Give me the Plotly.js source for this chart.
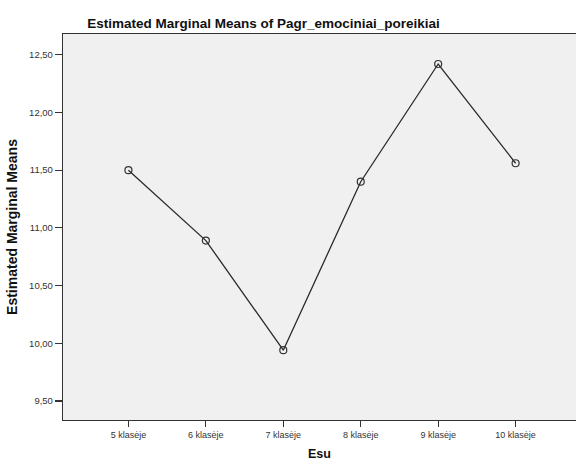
<!DOCTYPE html>
<html>
<head>
<meta charset="utf-8">
<script src="https://cdn.plot.ly/plotly-3.0.1.min.js"></script>
<style>html,body{margin:0;padding:0;background:#fff;}#chart{width:576px;height:461px;}</style>
</head>
<body>
<div id="chart"></div>
<script>
var categories = ["5 klasėje", "6 klasėje", "7 klasėje", "8 klasėje", "9 klasėje", "10 klasėje"];
var means = [11.50, 10.89, 9.94, 11.40, 12.42, 11.56];
var yTicks = [9.5, 10.0, 10.5, 11.0, 11.5, 12.0, 12.5];

var trace = {
  x: categories,
  y: means,
  type: 'scatter',
  mode: 'lines+markers',
  line: {color: '#2a2a2a', width: 1.3},
  marker: {symbol: 'circle-open', size: 7, color: '#333333', line: {width: 1.2, color: '#333333'}},
  hoverinfo: 'x+y'
};

var layout = {
  width: 576,
  height: 461,
  separators: ', ',
  paper_bgcolor: '#ffffff',
  plot_bgcolor: '#f0f0f0',
  margin: {l: 63, r: 0, t: 34, b: 41, pad: 0},
  showlegend: false,
  font: {family: 'Arial, "Liberation Sans", sans-serif', color: '#333333'},
  title: {
    text: '<b>Estimated Marginal Means of Pagr_emociniai_poreikiai</b>',
    font: {size: 13.5, color: '#111111'},
    xref: 'container', yref: 'container',
    x: 0.4575, xanchor: 'center',
    y: 0.95, yanchor: 'middle'
  },
  xaxis: {
    type: 'category',
    range: [-0.845, 5.78],
    showgrid: false,
    zeroline: false,
    showline: true,
    linecolor: '#333333',
    linewidth: 1.2,
    mirror: true,
    ticks: 'outside',
    ticklen: 6,
    tickwidth: 1.2,
    tickcolor: '#333333',
    tickfont: {size: 9, color: '#333333'},
    title: {text: '<b>Esu</b>', font: {size: 12.5, color: '#111111'}, standoff: 14}
  },
  yaxis: {
    range: [9.335, 12.68],
    tickvals: yTicks,
    tickformat: '.2f',
    showgrid: false,
    zeroline: false,
    showline: true,
    linecolor: '#333333',
    linewidth: 1.2,
    mirror: true,
    ticks: 'outside',
    ticklen: 7,
    tickwidth: 1.2,
    tickcolor: '#333333',
    tickfont: {size: 9.5, color: '#333333'},
    title: {text: '<b>Estimated Marginal Means</b>', font: {size: 14, color: '#111111'}, standoff: 8}
  }
};

Plotly.newPlot('chart', [trace], layout, {displayModeBar: false, staticPlot: true});
</script>
</body>
</html>
